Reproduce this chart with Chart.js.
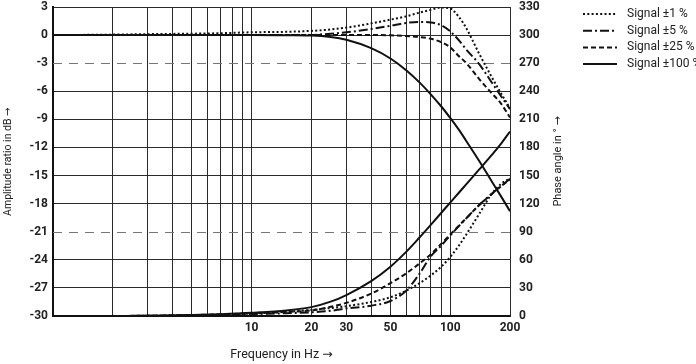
<!DOCTYPE html>
<html>
<head>
<meta charset="utf-8">
<script src="https://cdn.jsdelivr.net/npm/chart.js@4.4.1/dist/chart.umd.min.js"></script>
<style>
  html, body { margin: 0; padding: 0; background: #fff; }
  #wrap { width: 696px; height: 364px; }
</style>
</head>
<body>
<div id="wrap"><canvas id="bode" width="696" height="364"></canvas></div>
<script>
// frequencies (Hz) shared by all curves
const freqs = [1, 2, 3, 5, 7, 10, 15, 20, 25, 30, 40, 50, 60, 70, 80, 90, 100, 110, 120, 140, 160, 180, 200];

// amplitude ratio in dB
const amp1   = [0, 0.05, 0.1, 0.15, 0.2, 0.3, 0.35, 0.45, 0.6, 0.8, 1.25, 1.65, 2.0, 2.4, 2.7, 2.95, 2.85, 2.0, 0.8, -2.0, -4.3, -6.2, -7.8];
const amp5   = [0, 0, 0, 0, 0, 0, 0, 0.02, 0.15, 0.3, 0.65, 1.0, 1.3, 1.4, 1.35, 1.05, 0.4, -0.5, -1.5, -3.1, -4.9, -6.5, -7.9];
const amp25  = [0, 0, 0, 0, 0, 0, 0, 0, 0, 0, 0, -0.02, -0.1, -0.2, -0.4, -0.75, -1.3, -2.2, -2.95, -4.7, -6.1, -7.3, -8.8];
const amp100 = [0, 0, 0, 0, 0, 0, -0.02, -0.05, -0.2, -0.5, -1.4, -2.5, -3.75, -5.05, -6.35, -7.6, -8.85, -10.05, -11.25, -13.45, -15.45, -17.2, -18.8];

// phase angle in degrees
const phase1   = [null, 0, 0.2, 0.8, 1.5, 2.5, 4.5, 6.5, 8.5, 10.5, 15, 20, 27, 35, 43.5, 52.5, 63, 74.5, 86.5, 109, 129, 141, 147];
const phase5   = [null, 0, 0.2, 0.6, 1, 2, 3, 4, 5.5, 8, 11, 16, 27, 45, 64, 75, 86, 95.5, 104, 118.5, 129.5, 138.5, 146.5];
const phase25  = [null, 0, 0.3, 1, 1.8, 3, 4.5, 6, 9.8, 14, 24, 35, 45.5, 56, 66, 77, 87, 96, 104, 118.5, 129.5, 138.5, 146];
const phase100 = [null, 0, 0.3, 1, 2, 3.5, 6, 9.5, 15.3, 22.4, 37.3, 52.7, 68.5, 83.8, 97.6, 110, 121.1, 131.1, 140.3, 156.5, 170.7, 183.8, 197];

const seriesNames = ["Signal ±1 %", "Signal ±5 %", "Signal ±25 %", "Signal ±100 %"];

// axis ticks
const xGridValues = [1, 2, 3, 4, 5, 6, 7, 8, 9, 10, 20, 30, 40, 50, 60, 70, 80, 90, 100, 200];
const xLabelValues = [10, 20, 30, 50, 100, 200];
const dashedLevels = [-3, -21];

const ink = "#111";
const gridInk = "#2a2a2a";
const dashes = [[2, 2.3], [9, 3, 2, 3], [5, 3], []];

function points(arr) {
  return freqs.map((f, i) => ({ x: f, y: arr[i] })).filter(p => p.y !== null);
}

function curve(name, arr, idx, axis) {
  return {
    label: name,
    data: points(arr),
    yAxisID: axis,
    borderColor: ink,
    borderWidth: 2,
    borderDash: dashes[idx],
    pointRadius: 0,
    fill: false,
    cubicInterpolationMode: "monotone"
  };
}

const textFont = "Roboto, 'DejaVu Sans', sans-serif";
const tickFont = { family: textFont, size: 12, weight: "bold", lineHeight: 1.1 };

// keep tick padding from pushing the plot area in
function noPad(s) {
  s.paddingTop = 0;
  s.paddingBottom = 0;
}

// dashed reference lines at -3 dB / -21 dB
const dashedGrid = {
  id: "dashedGrid",
  beforeDatasetsDraw(chart) {
    const { ctx, chartArea: a, scales } = chart;
    ctx.save();
    ctx.strokeStyle = "#777";
    ctx.lineWidth = 1;
    ctx.setLineDash([9, 7]);
    dashedLevels.forEach(v => {
      const y = Math.round(scales.y.getPixelForValue(v)) + 0.5;
      ctx.beginPath();
      ctx.moveTo(a.left, y);
      ctx.lineTo(a.right, y);
      ctx.stroke();
    });
    ctx.restore();
  }
};

// legend lines + right axis title
const extras = {
  id: "extras",
  afterDraw(chart) {
    const { ctx, chartArea: a } = chart;
    ctx.save();
    ctx.fillStyle = "#222";
    ctx.font = "12px " + textFont;
    ctx.textBaseline = "middle";
    seriesNames.forEach((name, i) => {
      const y = 14 + i * 16.7;
      ctx.strokeStyle = ink;
      ctx.lineWidth = 2;
      ctx.setLineDash(dashes[i]);
      ctx.beginPath();
      ctx.moveTo(583, y);
      ctx.lineTo(617, y);
      ctx.stroke();
      ctx.fillText(name, 627, y);
    });
    ctx.setLineDash([]);
    ctx.font = "11px " + textFont;
    ctx.translate(558, (a.top + a.bottom) / 2);
    ctx.rotate(-Math.PI / 2);
    ctx.textAlign = "center";
    ctx.fillText("Phase angle in ° →", 0, 0);
    ctx.restore();
  }
};

new Chart(document.getElementById("bode"), {
  type: "line",
  data: {
    datasets: [
      curve(seriesNames[0], amp1, 0, "y"),
      curve(seriesNames[1], amp5, 1, "y"),
      curve(seriesNames[2], amp25, 2, "y"),
      curve(seriesNames[3], amp100, 3, "y"),
      curve(seriesNames[0], phase1, 0, "y2"),
      curve(seriesNames[1], phase5, 1, "y2"),
      curve(seriesNames[2], phase25, 2, "y2"),
      curve(seriesNames[3], phase100, 3, "y2")
    ]
  },
  options: {
    responsive: false,
    animation: false,
    devicePixelRatio: 1,
    layout: { padding: { top: 7, right: 146, bottom: 0, left: 0 } },
    plugins: { legend: { display: false }, tooltip: { enabled: false } },
    scales: {
      x: {
        type: "logarithmic",
        min: 1,
        max: 200,
        afterBuildTicks: s => { s.ticks = xGridValues.map(v => ({ value: v })); },
        afterFit: s => { s.height = 48; },
        ticks: {
          autoSkip: false,
          maxRotation: 0,
          padding: 5,
          color: "#222",
          font: tickFont,
          callback: v => (xLabelValues.includes(v) ? String(v) : "")
        },
        grid: {
          drawTicks: false,
          color: ctx => (ctx.tick && ctx.tick.value === 1 ? "rgba(0,0,0,0)" : gridInk),
          lineWidth: 1
        },
        border: { display: true, color: ink, width: 2 },
        title: {
          display: true,
          text: "Frequency in Hz →",
          color: "#222",
          font: { family: textFont, size: 12.5 },
          padding: { top: 0, bottom: 2 }
        }
      },
      y: {
        position: "left",
        min: -30,
        max: 3,
        afterFit: s => { s.width = 53; noPad(s); },
        ticks: { stepSize: 3, padding: 5, color: "#222", font: tickFont },
        grid: {
          drawTicks: false,
          color: ctx => (dashedLevels.includes(ctx.tick && ctx.tick.value) ? "rgba(0,0,0,0)" : gridInk),
          lineWidth: 1
        },
        border: { display: true, color: ink, width: 2 },
        title: {
          display: true,
          text: "Amplitude ratio in dB →",
          color: "#222",
          font: { family: textFont, size: 10.5 },
          padding: { top: 2, bottom: 0 }
        }
      },
      y2: {
        position: "right",
        min: 0,
        max: 330,
        afterFit: s => { s.width = 40; noPad(s); },
        ticks: { stepSize: 30, padding: 9, color: "#222", font: tickFont },
        grid: { drawOnChartArea: false, drawTicks: false },
        border: { display: true, color: gridInk, width: 1 }
      }
    }
  },
  plugins: [dashedGrid, extras]
});
</script>
</body>
</html>
